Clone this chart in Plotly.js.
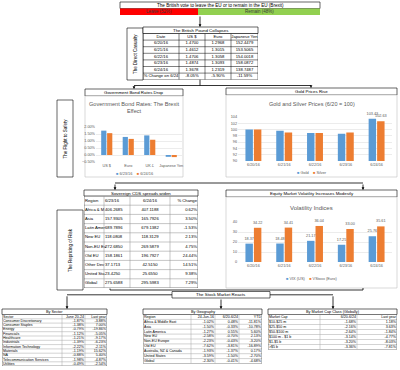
<!DOCTYPE html>
<html><head><meta charset="utf-8">
<script src="https://cdn.plot.ly/plotly-3.0.1.min.js"></script>
<style>html,body{margin:0;padding:0;background:#fff;overflow:hidden}#chart{width:400px;height:370px}</style>
</head><body><div id="chart"></div>
<script>
// ---------------- DATA ----------------
const brexitTitle = "The British vote to leave the EU or to remain in the EU (Brexit)";
const brexitOptions = ["Leave (52%)", "Remain (48%)"];

const poundHeader = ["Date", "US $", "Euro", "Japanese Yen"];
const poundDates = ["6/20/16","6/21/16","6/22/16","6/23/16","6/24/16","% Change on 6/24"];
const poundUSD = ["1.4700","1.4612","1.4706","1.4874","1.3678","-8.05%"];
const poundEUR = ["1.2968","1.3015","1.3058","1.3093","1.2319","-5.90%"];
const poundJPY = ["152.4479","153.5065","154.0018","158.0872","138.7487","-11.59%"];

const bondCountries = ["US $","Euro","UK £","Japanese Yen"];
const bondSeries = ["6/23/16","6/24/16"];
const bondRates0623 = [1.74, 1.29, 1.40, -0.13];
const bondRates0624 = [1.56, 1.15, 1.09, -0.15];

const priceDates = ["6/20/16","6/21/16","6/22/16","6/23/16","6/24/16"];
const priceSeries = ["Gold","Silver"];
const goldIndex = [100, 99.6, 98.9, 98.7, 103.43];
const silverIndex = [100, 99.1, 98.9, 99.1, 102.63];

const volDates = ["6/20/16","6/21/16","6/22/16","6/23/16","6/24/16"];
const volSeries = ["VIX (US)","VStoxx (Euro)"];
const vixUS = [18.37, 18.48, 21.17, 17.25, 25.76];
const vstoxxEuro = [34.22, 34.41, 36.04, 33.00, 35.61];

const cdsHeader = ["Region","6/23/16","6/24/16","% Change"];
const cdsRegions = ["Africa & M","Asia","Latin Amer","New EU","Non-EU Eu","Old EU","Other Dev","United Sta","Global"];
const cds0623 = ["406.2685","157.9305","689.7896","118.0808","272.6850","158.1861","37.1713","23.4250","275.6588"];
const cds0624 = ["407.1188","165.7926","679.1382","118.3129","269.5879","196.7927","42.5150","25.6550","295.5983"];
const cdsChange = ["0.62%","3.50%","-1.53%","2.13%","4.75%","24.44%","14.51%","9.38%","7.29%"];

const sectorHeader = ["Sector","June 20-24","Last year"];
const sectors = ["Consumer Discretionary","Consumer Staples","Energy","Financials","Healthcare","Industrials","Information Technology","Materials","NA","Telecommunication Services","Utilities"];
const sectorWeek = ["-1.87%","-1.38%","-0.79%","-1.12%","-1.21%","-1.39%","-2.22%","-1.19%","-0.88%","-1.98%","-0.49%"];
const sectorYear = ["-3.88%","7.00%","-19.86%","-5.05%","-9.17%","-6.23%","-2.11%","15.62%","5.40%","-4.87%","-2.54%"];

const geoHeader = ["Region","24-Jun-16","6/20-6/24","YTD"];
const geoRegions = ["Africa & Middle East","Asia","Latin America","New EU","Non-EU Europe","Old EU","Australia, NZ & Canada","United States","Global"];
const geoDay = ["-1.02%","-1.50%","-1.27%","-2.58%","-2.23%","-7.62%","-1.93%","-3.59%","-2.30%"];
const geoWeek = ["0.48%","-0.33%","0.55%","-0.70%","-0.43%","-3.81%","-1.37%","-1.50%","-0.41%"];
const geoYTD = ["-11.81%","-10.78%","5.60%","2.13%","-3.20%","-16.89%","0.17%","-2.70%","-4.68%"];

const capHeader = ["Market Cap","6/20-6/24","Last year"];
const capClasses = ["$10-$25 m","$25-$50 m","$50-$100 m","$100 m - $1 b","$1-$5 b",">$5 b"];
const capWeek = ["-1.68%","-2.16%","-2.64%","-3.14%","-3.20%","-3.36%"];
const capYear = ["1.18%","3.63%","-1.84%","-4.77%","-8.03%","-7.81%"];

// ---------------- BUILD ----------------
const W=400,H=370;
const X=p=>p/W, Y=p=>1-p/H;
const F="Liberation Sans, Arial, sans-serif";
const BLUE="#5B9BD5", ORANGE="#ED7D31", GRAY="#595959";
const data=[], shapes=[], annotations=[];
const layout={width:W,height:H,margin:{l:0,r:0,t:0,b:0},paper_bgcolor:'#fff',plot_bgcolor:'rgba(0,0,0,0)',
  showlegend:false,barmode:'group',bargap:0.45,bargroupgap:0.12,hovermode:false,
  font:{family:F,size:5,color:'#000'},shapes:shapes,annotations:annotations};
let nAx=0;
function axes(x0,y0,x1,y1,xo,yo){
  nAx++; const s=nAx===1?'':String(nAx);
  const base={showgrid:false,zeroline:false,showticklabels:false,showline:false,ticks:'',fixedrange:true};
  layout['xaxis'+s]=Object.assign({},base,{domain:[X(x0),X(x1)],anchor:'y'+s},xo||{});
  layout['yaxis'+s]=Object.assign({},base,{domain:[Y(y1),Y(y0)],anchor:'x'+s},yo||{});
  return {x:'x'+s,y:'y'+s};
}
function rect(x0,y0,x1,y1,color,width,fill){
  shapes.push({type:'rect',xref:'paper',yref:'paper',x0:X(x0),x1:X(x1),y0:Y(y1),y1:Y(y0),
    line:{color:color,width:width},fillcolor:fill||'rgba(0,0,0,0)',layer:'below'});
}
function poly(pts,color,width){
  const d=pts.map((p,i)=>(i?'L':'M')+X(p[0])+','+Y(p[1])).join(' ');
  shapes.push({type:'path',xref:'paper',yref:'paper',path:d,line:{color:color||'#000',width:width||0.8}});
}
function arrow(x,y0,y1){
  annotations.push({xref:'paper',yref:'paper',x:X(x),y:Y(y1),ax:0,ay:-(y1-y0),text:'',showarrow:true,
    arrowhead:2,arrowsize:0.7,arrowwidth:0.8,arrowcolor:'#000',standoff:0});
}
function txt(x,y,t,size,opts){
  annotations.push(Object.assign({xref:'paper',yref:'paper',x:X(x),y:Y(y),text:t,showarrow:false,
    font:{size:size,family:F,color:'#000'},xanchor:'center',yanchor:'middle',borderpad:0},opts||{}));
}
function table(x0,top,titleH,rowH,colW,title,header,cols,align,fs,lineCol){
  const n=cols[0].length+1;
  const bodyTop=top+titleH, bottom=bodyTop+n*rowH;
  const total=colW.reduce((a,b)=>a+b,0), x1=x0+total;
  const ax=axes(x0,bodyTop,x1,bottom,{range:[0,total]},{range:[n,0]});
  rect(x0,top,x1,bodyTop,'#000',0.6,'#fff');
  txt((x0+x1)/2,(top+bodyTop)/2,title,fs+0.2);
  for(let r=0;r<=n;r++) shapes.push({type:'line',xref:ax.x,yref:ax.y,x0:0,x1:total,y0:r,y1:r,
    line:{color:(r===n)?'#000':lineCol,width:0.5}});
  let acc=0;
  for(let c=0;c<=colW.length;c++){
    shapes.push({type:'line',xref:ax.x,yref:ax.y,x0:acc,x1:acc,y0:0,y1:n,
      line:{color:(c===0||c===colW.length)?'#000':lineCol,width:0.5}});
    if(c<colW.length) acc+=colW[c];
  }
  acc=0;
  colW.forEach((w,c)=>{
    const vals=[header[c]].concat(cols[c]); const a=align[c]; const left=acc;
    data.push({type:'scatter',mode:'text',xaxis:ax.x,yaxis:ax.y,
      x:vals.map(()=>a==='l'?left+1:a==='r'?left+w-1:left+w/2),
      y:vals.map((v,i)=>i+0.5),text:vals,
      textposition:a==='l'?'middle right':a==='r'?'middle left':'middle center',
      textfont:{size:fs,family:F,color:'#000'},hoverinfo:'skip',cliponaxis:false,showlegend:false});
    acc+=w;
  });
}
const tickF={size:3.8,color:GRAY,family:F};
function legendTxt(names,colors){
  return names.map((n,i)=>'<span style="color:'+colors[i]+'">■</span> '+n).join('    ');
}

// --- Brexit headline (title row + two coloured cells) ---
rect(120,2,320,8.5,'#000',0.6,'#fff');
txt(220,5.3,brexitTitle,4.6);
const cellEdges=[120,198,320], cellFill=['#FF0000','#92D050'];
brexitOptions.forEach((t,i)=>{
  rect(cellEdges[i],8.5,cellEdges[i+1],15,'rgba(0,0,0,0)',0,cellFill[i]);
  txt((cellEdges[i]+cellEdges[i+1])/2,11.8,t,4.5,{font:{size:4.5,family:F,color:'#3a3a3a'}});
});
arrow(200,15,27);

// --- Direct casualty ---
rect(127,28,143,80,'#000',0.6,'#fff');
txt(135,54,"The Direct Casualty",4.5,{textangle:-90});
table(143,27,6.5,6.6,[36,26,26,27],"The British Pound Collapses",poundHeader,
  [poundDates,poundUSD,poundEUR,poundJPY],['c','c','c','c'],4.2,'#000');
poly([[200,79.7],[200,85.5]]);
poly([[134,85.5],[311,85.5]]);
arrow(134,85.5,89); arrow(311,85.5,88);

// --- Flight to safety ---
rect(57,100,73,177,'#000',0.6,'#fff');
txt(65,138.5,"The Flight to Safety",4.5,{textangle:-90});
rect(85,89,183,96,'#000',0.6,'#fff');
txt(134,92.5,"Government Bond Rates Drop",4.4);
rect(85,96,183,177,'#BFBFBF',0.6,'#fff');
txt(134,107.5,"Government Bond Rates: The Brexit<br>Effect",5.6,{font:{size:5.6,family:F,color:GRAY}});
const ba=axes(96,127,182,162,{type:'category',showticklabels:true,tickfont:tickF,range:[-0.5,3.5]},
  {range:[-0.5,2.0],dtick:0.5,showgrid:true,gridcolor:'#D9D9D9',gridwidth:0.5,showticklabels:true,tickfont:tickF,tickformat:'.2f',ticksuffix:'%'});
data.push({type:'bar',xaxis:ba.x,yaxis:ba.y,x:bondCountries,y:bondRates0623,name:bondSeries[0],marker:{color:BLUE}});
data.push({type:'bar',xaxis:ba.x,yaxis:ba.y,x:bondCountries,y:bondRates0624,name:bondSeries[1],marker:{color:ORANGE}});
txt(134,173.5,legendTxt(bondSeries,[BLUE,ORANGE]),3.9,{font:{size:3.9,family:F,color:GRAY}});

rect(226,88,397,95,'#000',0.6,'#fff');
txt(311.5,91.5,"Gold Prices Rise",4.4);
rect(226,95,397,177,'#BFBFBF',0.6,'#fff');
txt(311.5,104,"Gold and Silver Prices (6/20 = 100)",5.5,{font:{size:5.5,family:F,color:GRAY}});
const ga=axes(238,117,392,161,{type:'category',showticklabels:true,tickfont:tickF,range:[-0.5,4.5]},
  {range:[90,104],dtick:2,showgrid:true,gridcolor:'#D9D9D9',gridwidth:0.5,showticklabels:true,tickfont:tickF});
data.push({type:'bar',xaxis:ga.x,yaxis:ga.y,x:priceDates,y:goldIndex,name:priceSeries[0],marker:{color:BLUE},
  text:goldIndex.map((v,i)=>i===goldIndex.length-1?v.toFixed(2):''),textposition:'outside',constraintext:'none',cliponaxis:false,textfont:{size:3.8,color:GRAY,family:F}});
data.push({type:'bar',xaxis:ga.x,yaxis:ga.y,x:priceDates,y:silverIndex,name:priceSeries[1],marker:{color:ORANGE},
  text:silverIndex.map((v,i)=>i===silverIndex.length-1?v.toFixed(2):''),textposition:'outside',constraintext:'none',cliponaxis:false,textfont:{size:3.8,color:GRAY,family:F}});
txt(311.5,172.5,legendTxt(priceSeries,[BLUE,ORANGE]),3.9,{font:{size:3.9,family:F,color:GRAY}});

poly([[115,183],[363,183]]);
arrow(115,183,190); arrow(363,183,190);

// --- Repricing of risk ---
rect(57,210,83,290,'#000',0.6,'#fff');
txt(70,250,"The Repricing of Risk",4.5,{textangle:-90});
table(84,190,6,9.2,[20,26,40,28],"Sovereign CDS spreads widen",cdsHeader,
  [cdsRegions,cds0623,cds0624,cdsChange],['l','l','c','r'],4.2,'#8c8c8c');

rect(226,190,397,197,'#000',0.6,'#fff');
txt(311.5,193.5,"Equity Market Volatility Increases Modestly",4.4);
rect(226,197,397,288,'#BFBFBF',0.6,'#fff');
txt(311.5,208,"Volatility Indices",6,{font:{size:6,family:F,color:GRAY}});
const va=axes(238,222,392,262,{type:'category',showticklabels:true,tickfont:tickF,range:[-0.5,4.5]},
  {range:[0,40],dtick:10,showgrid:true,gridcolor:'#D9D9D9',gridwidth:0.5,showticklabels:true,tickfont:tickF});
data.push({type:'bar',xaxis:va.x,yaxis:va.y,x:volDates,y:vixUS,name:volSeries[0],marker:{color:BLUE},
  text:vixUS.map(v=>v.toFixed(2)),textposition:'outside',constraintext:'none',cliponaxis:false,textfont:{size:3.8,color:GRAY,family:F}});
data.push({type:'bar',xaxis:va.x,yaxis:va.y,x:volDates,y:vstoxxEuro,name:volSeries[1],marker:{color:ORANGE},
  text:vstoxxEuro.map(v=>v.toFixed(2)),textposition:'outside',constraintext:'none',cliponaxis:false,textfont:{size:3.8,color:GRAY,family:F}});
txt(311.5,278,legendTxt(volSeries,[BLUE,ORANGE]),3.9,{font:{size:3.9,family:F,color:GRAY}});

poly([[110,288.5],[110,290],[363,290],[363,288]]);

// --- Stock market ---
rect(172,291.5,270,298,'#000',0.6,'#fff');
txt(221,294.8,"The Stock Market Reacts",4.4);
poly([[172,294.8],[67,294.8]]); arrow(67,294.8,309);
poly([[270,294.8],[333,294.8]]); arrow(333,294.8,309);
arrow(221,298,309);

table(2,309,5.5,4.3,[60,23,22],"By Sector",sectorHeader,[sectors,sectorWeek,sectorYear],['l','r','r'],3.6,'#a6a6a6');
table(143,309,5.5,4.9,[48,24,24,23],"By Geography",geoHeader,[geoRegions,geoDay,geoWeek,geoYTD],['l','r','r','r'],3.6,'#a6a6a6');
table(268,309,5.5,5.0,[52,37,40],"By Market Cap Class (Globally)",capHeader,[capClasses,capWeek,capYear],['l','r','r'],3.6,'#a6a6a6');

Plotly.newPlot('chart',data,layout,{staticPlot:true,displayModeBar:false});
</script></body></html>
